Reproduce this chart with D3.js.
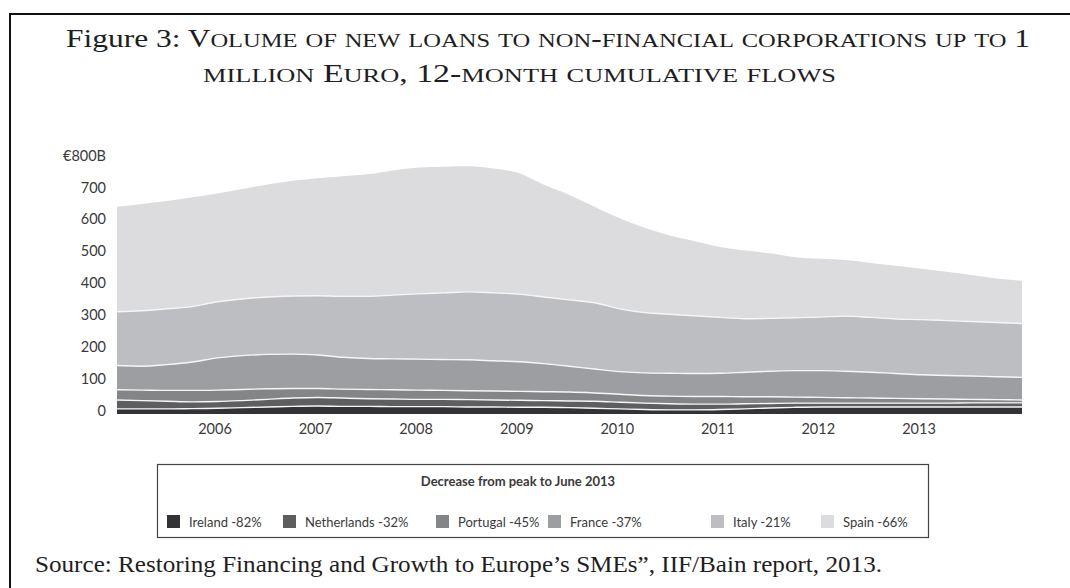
<!DOCTYPE html>
<html>
<head>
<meta charset="utf-8">
<script src="https://cdn.jsdelivr.net/npm/d3@7"></script>
<style>
  html, body { margin: 0; padding: 0; background: #fff; }
  svg { display: block; }
  .serif { font-family: "Liberation Serif", "DejaVu Serif", serif; fill: #1e1e1e; }
  .sans { font-family: Lato, "Open Sans", sans-serif; fill: #3a3a3a; }
</style>
</head>
<body>
<svg id="chart" width="1070" height="588"></svg>
<script>
// Quarterly periods (12-month cumulative flows, € billions)
const quarters = [
  "2005-01", "2005-04", "2005-07", "2005-10",
  "2006-01", "2006-04", "2006-07", "2006-10",
  "2007-01", "2007-04", "2007-07", "2007-10",
  "2008-01", "2008-04", "2008-07", "2008-10",
  "2009-01", "2009-04", "2009-07", "2009-10",
  "2010-01", "2010-04", "2010-07", "2010-10",
  "2011-01", "2011-04", "2011-07", "2011-10",
  "2012-01", "2012-04", "2012-07", "2012-10",
  "2013-01", "2013-04", "2013-07", "2013-10",
  "2014-01"
];

const countries = ["Ireland", "Netherlands", "Portugal", "France", "Italy", "Spain"];
const decreases = ["-82%", "-32%", "-45%", "-37%", "-21%", "-66%"];

const ireland = [16, 16, 16, 17, 18, 20, 22, 24, 25, 24, 24, 23, 23, 23, 22, 22, 21, 21, 20, 18,
  16, 14, 13, 13, 14, 16, 19, 21, 22, 22, 22, 22, 22, 22, 22, 22, 22];
const netherlands = [28, 26, 24, 21, 21, 22, 24, 26, 27, 26, 24, 24, 23, 23, 23, 22, 22, 21, 21, 22,
  21, 20, 19, 18, 17, 16, 14, 13, 12, 12, 12, 12, 12, 12, 13, 13, 13];
const portugal = [32, 33, 34, 36, 36, 35, 33, 30, 28, 28, 29, 29, 29, 28, 28, 28, 28, 28, 28, 26,
  25, 24, 24, 24, 24, 22, 21, 19, 18, 17, 16, 15, 14, 13, 11, 10, 9];
const france = [76, 75, 81, 89, 101, 106, 108, 108, 105, 100, 97, 97, 97, 97, 97, 95, 93, 88, 81, 75,
  71, 71, 72, 72, 73, 77, 80, 83, 84, 83, 81, 78, 75, 74, 73, 72, 71];
const italy = [169, 174, 175, 174, 176, 178, 180, 182, 186, 191, 195, 200, 205, 209, 213, 213, 212, 209, 208, 208,
  197, 189, 185, 181, 175, 168, 166, 166, 168, 173, 172, 171, 173, 172, 171, 170, 169];
const spain = [329, 335, 338, 343, 340, 345, 353, 362, 369, 377, 383, 391, 396, 396, 394, 390, 379, 352, 330, 301,
  284, 266, 247, 234, 221, 214, 204, 190, 183, 176, 171, 167, 160, 153, 146, 138, 134];

const yTicks = [0, 100, 200, 300, 400, 500, 600, 700, 800];
const yTickLabels = ["0", "100", "200", "300", "400", "500", "600", "700", "€800B"];
const yearTicks = ["2006", "2007", "2008", "2009", "2010", "2011", "2012", "2013"];

const colors = ["#333335", "#5d5e60", "#848587", "#9d9ea1", "#bdbec1", "#dcdcde"];

const parseMonth = d3.timeParse("%Y-%m");
const parseYear = d3.timeParse("%Y");
const seriesByCountry = { Ireland: ireland, Netherlands: netherlands, Portugal: portugal,
  France: france, Italy: italy, Spain: spain };

const table = quarters.map((q, i) => {
  const row = { date: parseMonth(q) };
  countries.forEach(c => { row[c] = seriesByCountry[c][i]; });
  return row;
});

const svg = d3.select('#chart');

// small caps by hand: lowercase letters become smaller capitals
function smallCaps(textSel, str, size) {
  let run = '', runSmall = null;
  const flush = () => {
    if (!run) return;
    textSel.append('tspan')
      .attr('font-size', runSmall ? size * 0.78 : size)
      .text(runSmall ? run.toUpperCase() : run);
    run = '';
  };
  for (const ch of str) {
    const small = ch !== ch.toUpperCase();
    if (runSmall !== null && small !== runSmall) flush();
    runSmall = small;
    run += ch;
  }
  flush();
}

// Frame
svg.append('line').attr('x1', 9).attr('x2', 1070).attr('y1', 14).attr('y2', 14)
  .attr('stroke', '#111').attr('stroke-width', 2);
svg.append('line').attr('x1', 10).attr('x2', 10).attr('y1', 13).attr('y2', 588)
  .attr('stroke', '#111').attr('stroke-width', 2);

// Title
const title1 = svg.append('text').attr('class', 'serif')
  .attr('x', 66).attr('y', 47)
  .attr('font-size', 25)
  .attr('textLength', 964).attr('lengthAdjust', 'spacingAndGlyphs');
title1.append('tspan').text('Figure 3: ');
smallCaps(title1, 'Volume of new loans to non-financial corporations up to 1', 25);

const title2 = svg.append('text').attr('class', 'serif')
  .attr('x', 203).attr('y', 82)
  .attr('font-size', 25)
  .attr('textLength', 633).attr('lengthAdjust', 'spacingAndGlyphs');
smallCaps(title2, 'million Euro, 12-month cumulative flows', 25);

// Scales
const x = d3.scaleTime()
  .domain(d3.extent(table, d => d.date))
  .range([117, 1022]);

const y = d3.scaleLinear()
  .domain([0, 800])
  .range([414, 159]);

const color = d3.scaleOrdinal().domain(countries).range(colors);

const stacked = d3.stack().keys(countries)(table);

const area = d3.area()
  .x(d => x(d.data.date))
  .y0(d => y(d[0]))
  .y1(d => y(d[1]))
  .curve(d3.curveMonotoneX);

const topLine = d3.line()
  .x(d => x(d.data.date))
  .y(d => y(d[1]))
  .curve(d3.curveMonotoneX);

const plot = svg.append('g');

plot.selectAll('.layer')
  .data(stacked)
  .enter()
  .append('path')
  .attr('class', 'layer')
  .attr('fill', d => color(d.key))
  .attr('d', area);

// white separators between layers
plot.selectAll('.sep')
  .data(stacked.slice(0, stacked.length - 1))
  .enter()
  .append('path')
  .attr('class', 'sep')
  .attr('fill', 'none')
  .attr('stroke', '#f6f6f6')
  .attr('stroke-width', 1.4)
  .attr('d', topLine);

// Y axis labels
const yAxis = svg.append('g')
  .attr('transform', 'translate(106,-3.5)')
  .call(d3.axisLeft(y).tickValues(yTicks).tickSize(0).tickPadding(0)
    .tickFormat((d, i) => yTickLabels[i]));
yAxis.select('.domain').remove();
yAxis.selectAll('text')
  .attr('font-size', 14.5)
  .style('font-family', 'Lato, "Open Sans", sans-serif')
  .attr('fill', '#3a3a3a');

// X axis labels
const xAxis = svg.append('g')
  .attr('transform', 'translate(-3,424)')
  .call(d3.axisBottom(x).tickValues(yearTicks.map(parseYear)).tickSize(0).tickPadding(0)
    .tickFormat(d3.timeFormat('%Y')));
xAxis.select('.domain').remove();
xAxis.selectAll('text')
  .attr('font-size', 14.5)
  .style('font-family', 'Lato, "Open Sans", sans-serif')
  .attr('fill', '#3a3a3a');

// Legend
const legend = svg.append('g');
legend.append('rect')
  .attr('x', 157.5).attr('y', 464.5)
  .attr('width', 771).attr('height', 73)
  .attr('fill', '#fff').attr('stroke', '#444').attr('stroke-width', 1.2);
legend.append('text').attr('class', 'sans')
  .attr('x', 518).attr('y', 486)
  .attr('text-anchor', 'middle')
  .attr('font-size', 13)
  .attr('font-weight', 'bold')
  .attr('fill', '#222')
  .text('Decrease from peak to June 2013');

const legendX = [167, 283, 436, 548, 711, 821];
const items = legend.selectAll('.item')
  .data(countries)
  .enter()
  .append('g')
  .attr('class', 'item')
  .attr('transform', (d, i) => `translate(${legendX[i]},515)`);
items.append('rect')
  .attr('width', 13).attr('height', 13)
  .attr('fill', d => color(d));
items.append('text').attr('class', 'sans')
  .attr('x', 22).attr('y', 11.5)
  .attr('font-size', 13)
  .text((d, i) => `${d} ${decreases[i]}`);

// Source
svg.append('text').attr('class', 'serif')
  .attr('x', 35).attr('y', 572)
  .attr('font-size', 22.5)
  .attr('textLength', 847).attr('lengthAdjust', 'spacingAndGlyphs')
  .text('Source: Restoring Financing and Growth to Europe’s SMEs”, IIF/Bain report, 2013.');
</script>
</body>
</html>
